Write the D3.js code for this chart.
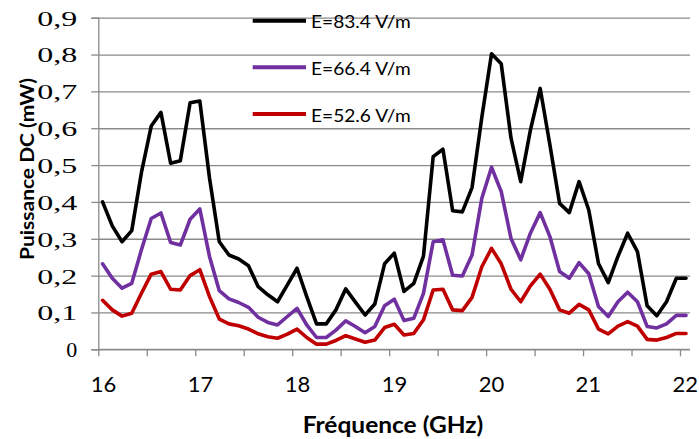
<!DOCTYPE html>
<html><head><meta charset="utf-8">
<script src="https://cdn.jsdelivr.net/npm/d3@7"></script>
<style>body{margin:0;background:#fff} svg{display:block}</style>
</head><body>
<script>
// ---- data ----
const frequencies = [16.044,16.144,16.245,16.345,16.445,16.546,16.646,16.746,16.846,16.947,
  17.047,17.147,17.248,17.348,17.448,17.549,17.649,17.749,17.849,17.950,
  18.050,18.150,18.251,18.351,18.451,18.552,18.652,18.752,18.852,18.953,
  19.053,19.153,19.254,19.354,19.454,19.555,19.655,19.755,19.855,19.956,
  20.056,20.156,20.257,20.357,20.457,20.558,20.658,20.758,20.858,20.959,
  21.059,21.159,21.260,21.360,21.460,21.561,21.661,21.761,21.861,21.962,22.062];
const seriesNames = ["E=83.4 V/m","E=66.4 V/m","E=52.6 V/m"];
const power834 = [0.400,0.335,0.292,0.322,0.480,0.606,0.643,0.505,0.512,0.669,0.674,0.465,0.292,
  0.256,0.245,0.227,0.170,0.148,0.129,0.175,0.220,0.143,0.069,0.069,0.107,
  0.164,0.128,0.093,0.123,0.232,0.261,0.157,0.179,0.253,0.523,0.543,
  0.376,0.373,0.439,0.630,0.802,0.775,0.573,0.455,0.595,0.708,0.555,0.396,0.371,
  0.455,0.378,0.233,0.181,0.252,0.315,0.265,0.118,0.091,0.129,0.193,0.193];
const power664 = [0.232,0.193,0.166,0.179,0.270,0.355,0.370,0.290,0.283,0.353,0.381,0.252,0.159,
  0.137,0.127,0.114,0.087,0.073,0.066,0.089,0.111,0.066,0.032,0.032,0.052,
  0.077,0.062,0.045,0.062,0.118,0.136,0.078,0.084,0.152,0.292,0.297,
  0.201,0.199,0.256,0.410,0.494,0.428,0.301,0.243,0.315,0.371,0.306,0.211,0.193,
  0.235,0.205,0.116,0.089,0.129,0.155,0.129,0.062,0.058,0.069,0.092,0.092];
const power526 = [0.133,0.107,0.090,0.098,0.152,0.204,0.211,0.163,0.161,0.200,0.216,0.143,0.082,
  0.069,0.064,0.055,0.042,0.034,0.030,0.041,0.055,0.032,0.014,0.014,0.024,
  0.037,0.028,0.019,0.025,0.059,0.068,0.039,0.043,0.080,0.161,0.163,
  0.107,0.105,0.141,0.224,0.274,0.232,0.163,0.129,0.172,0.204,0.163,0.107,0.098,
  0.122,0.107,0.055,0.042,0.063,0.075,0.063,0.027,0.025,0.032,0.043,0.043];
const yTicks = [0,0.1,0.2,0.3,0.4,0.5,0.6,0.7,0.8,0.9];
const xTicks = [16,16.5,17,17.5,18,18.5,19,19.5,20,20.5,21,21.5,22];
const xLabels = [16,17,18,19,20,21,22];
const colors = ["#000000","#7030A0","#C00000"];

// ---- chart ----
const W = 699, H = 439;
const svg = d3.select("body").append("svg").attr("width", W).attr("height", H)
  .style("background", "#fff");
const x = d3.scaleLinear().domain([16, 22]).range([98.3, 680]);
const y = d3.scaleLinear().domain([0, 0.9]).range([349.3, 17.7]);
const plotLeft = x(16), plotRight = 690;
const gridColor = "#8a8a8a";
const sans = "Lato, 'Open Sans', sans-serif";

// gridlines
svg.append("g").attr("transform", `translate(${plotLeft},0)`)
  .call(d3.axisLeft(y).tickValues(yTicks).tickSize(-(plotRight - plotLeft)).tickFormat(""))
  .call(g => g.select(".domain").remove())
  .call(g => g.selectAll("line").attr("stroke", gridColor).attr("stroke-width", 1.3));

// y axis
const fmt = d => d === 0 ? "0" : d.toFixed(1).replace(".", ",");
svg.append("g").attr("transform", `translate(${plotLeft},0)`)
  .call(d3.axisLeft(y).tickValues(yTicks).tickSize(7).tickPadding(14).tickFormat(fmt))
  .call(g => g.select(".domain").attr("stroke", gridColor).attr("stroke-width", 1.3))
  .call(g => g.selectAll("line").attr("stroke", gridColor).attr("stroke-width", 1.3))
  .call(g => g.selectAll("text")
     .attr("font-family", "'Liberation Serif', 'Times New Roman', serif")
     .attr("font-size", 20).attr("fill", "#000").attr("dy", "0.37em")
     .each(function(d){ if (d !== 0) d3.select(this).attr("textLength", 40).attr("lengthAdjust", "spacingAndGlyphs"); else d3.select(this).attr("textLength", 11).attr("lengthAdjust", "spacingAndGlyphs"); }));

// x axis
svg.append("g").attr("transform", `translate(0,${y(0)})`)
  .call(d3.axisBottom(x).tickValues(xTicks).tickSize(7).tickFormat(d => xLabels.includes(d) ? String(d) : ""))
  .call(g => g.select(".domain").attr("d", `M${plotLeft},0H${plotRight}`).attr("stroke", gridColor).attr("stroke-width", 1.3))
  .call(g => g.selectAll("line").attr("stroke", gridColor).attr("stroke-width", 1.3))
  .call(g => g.selectAll("text").attr("font-family", sans).attr("font-size", 22).attr("fill", "#000")
     .attr("x", 4.8).attr("y", 43).attr("dy", 0));

// series lines
const line = d3.line().x((d, i) => x(frequencies[i])).y(d => y(d));
const allSeries = [power834, power664, power526];
svg.append("g").selectAll("path").data(allSeries).join("path")
  .attr("d", d => line(d)).attr("fill", "none")
  .attr("stroke", (d, i) => colors[i]).attr("stroke-width", 3.6)
  .attr("stroke-linejoin", "round").attr("stroke-linecap", "round");

// legend
const legendY = [20.7, 67.3, 114];
const lg = svg.append("g").selectAll("g").data(seriesNames).join("g");
lg.append("line").attr("x1", 252.7).attr("x2", 306)
  .attr("y1", (d, i) => legendY[i]).attr("y2", (d, i) => legendY[i])
  .attr("stroke", (d, i) => colors[i]).attr("stroke-width", 4);
lg.append("text").attr("x", 311).attr("y", (d, i) => legendY[i] + 7.6)
  .attr("font-family", sans).attr("font-size", 18).attr("fill", "#000")
  .attr("textLength", 99.7).attr("lengthAdjust", "spacingAndGlyphs")
  .text(d => d);

// axis titles
svg.append("text").attr("x", 393).attr("y", 433.3).attr("text-anchor", "middle")
  .attr("font-family", sans).attr("font-weight", "bold").attr("font-size", 23)
  .attr("textLength", 180.6).attr("lengthAdjust", "spacingAndGlyphs")
  .text("Fréquence (GHz)");
svg.append("text").attr("transform", "translate(33.5,169) rotate(-90)")
  .attr("text-anchor", "middle")
  .attr("font-family", sans).attr("font-weight", "bold").attr("font-size", 19.5)
  .attr("textLength", 182).attr("lengthAdjust", "spacingAndGlyphs")
  .text("Puissance DC (mW)");
</script>
</body></html>
